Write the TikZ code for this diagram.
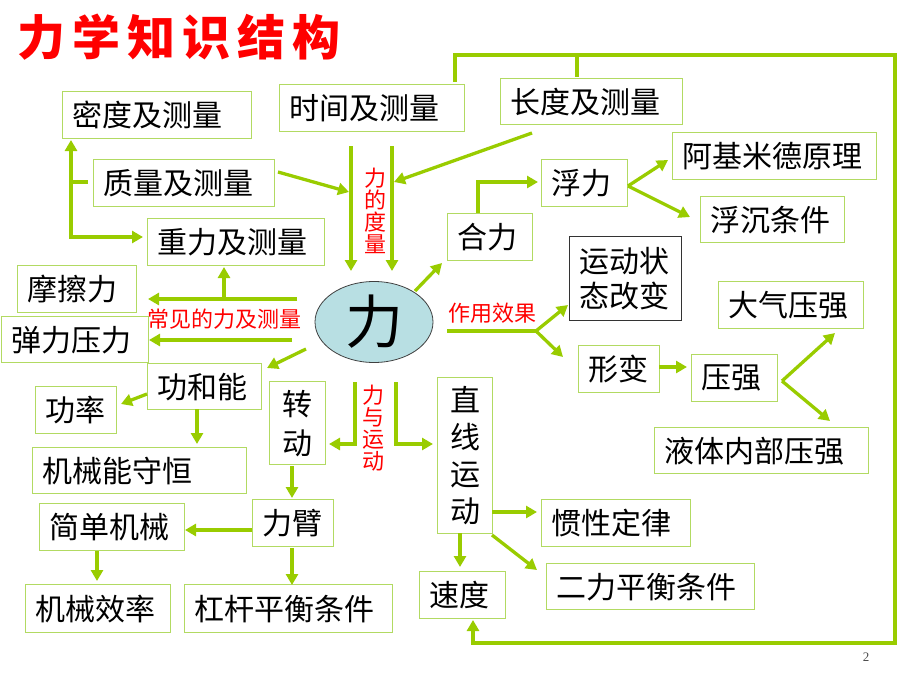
\documentclass[tikz,border=0pt]{standalone}
\usepackage{fontspec}
\setmainfont{Noto Sans CJK SC}
\newfontfamily\seriffont{Liberation Serif}
\usetikzlibrary{arrows.meta,shapes.geometric}
\definecolor{lg}{RGB}{153,204,0}
\definecolor{bg}{RGB}{178,218,98}
\definecolor{ellfill}{RGB}{184,223,227}
\tikzset{
  box/.style={draw=bg, line width=1.4pt, inner xsep=10pt, inner ysep=0pt, anchor=north west,
    align=left, font=\fontsize{30}{36}\selectfont},
  vbox/.style={box, align=center, inner xsep=0pt},
  conn/.style={draw=lg, line width=3.3pt},
  arr/.style={conn, -{Triangle[length=11pt,width=12pt]}},
  redlab/.style={text=red, inner sep=0pt, font=\fontsize{22}{22}\selectfont},
}
\begin{document}
\begin{tikzpicture}[x=1pt,y=-1pt]
\useasboundingbox (0,0) rectangle (920,690);
% title
\node[anchor=west, text=red, inner sep=0pt, font=\bfseries\fontsize{48}{50}\selectfont] (title) at (17,37)
  {力\kern7pt学\kern7pt知\kern7pt识\kern7pt结\kern7pt构};
% boxes
\node[box, text width=169pt, minimum height=47pt] (mid) at (62,91) {密度及测量};
\node[box, text width=165pt, minimum height=47pt] (shi) at (279,84) {时间及测量};
\node[box, text width=162pt, minimum height=46pt] (chang) at (500,78) {长度及测量};
\node[box, text width=161pt, minimum height=47pt] (zhi) at (93,159) {质量及测量};
\node[box, text width=157pt, minimum height=47pt] (zhong) at (147,218) {重力及测量};
\node[box, text width=184pt, minimum height=47pt] (aji) at (672,132) {阿基米德原理};
\node[box, text width=66pt, minimum height=47pt] (fu) at (541,159) {浮力};
\node[box, text width=124pt, minimum height=46pt] (fuchen) at (700,196) {浮沉条件};
\node[box, text width=65pt, minimum height=47pt] (heli) at (447,213) {合力};
\node[box, draw=black!80, line width=1pt, text width=92pt, minimum height=84pt,
  font=\fontsize{30}{35}\selectfont] (yd) at (569,236) {运动状\\态改变};
\node[box, text width=125pt, minimum height=47pt] (dq) at (718,281) {大气压强};
\node[box, text width=99pt, minimum height=47pt] (mc) at (17,265) {摩擦力};
\node[box, text width=127pt, minimum height=46pt] (tl) at (1,316) {弹力压力};
\node[box, text width=94pt, minimum height=46pt] (gn) at (147,363) {功和能};
\node[box, text width=61pt, minimum height=47pt] (gl) at (35,386) {功率};
\node[vbox, text width=56pt, minimum height=83pt, font=\fontsize{30}{39}\selectfont] (zd) at (269,381) {转\\动};
\node[vbox, text width=55pt, minimum height=156pt, font=\fontsize{30}{37}\selectfont] (zx) at (437,377) {直\\线\\运\\动};
\node[box, text width=61pt, minimum height=47pt] (xb) at (578,345) {形变};
\node[box, text width=66pt, minimum height=47pt] (yq) at (691,354) {压强};
\node[box, text width=194pt, minimum height=46pt] (yt) at (654,427) {液体内部压强};
\node[box, text width=129pt, minimum height=47pt] (gx) at (541,499) {惯性定律};
\node[box, text width=188pt, minimum height=46pt] (el) at (546,563) {二力平衡条件};
\node[box, text width=66pt, minimum height=47pt] (sd) at (419,571) {速度};
\node[box, text width=194pt, minimum height=46pt] (jn) at (32,447) {机械能守恒};
\node[box, text width=125pt, minimum height=47pt] (jd) at (39,503) {简单机械};
\node[box, text width=61pt, minimum height=47pt] (lb) at (252,499) {力臂};
\node[box, text width=125pt, minimum height=48pt] (xl) at (25,584) {机械效率};
\node[box, text width=188pt, minimum height=48pt] (gg) at (184,584) {杠杆平衡条件};
% central ellipse
\node[ellipse, draw=black!75, line width=0.8pt, fill=ellfill, minimum width=118pt, minimum height=81pt,
  inner sep=0pt, font=\fontsize{58}{60}\selectfont] (li) at (374,322) {力};
% red labels
\node[redlab, align=center, text width=22pt] (dlbl) at (375,211) {力\\的\\度\\量};
\node[redlab, align=center, text width=22pt] (ylbl) at (373,428) {力\\与\\运\\动};
\node[redlab] (clbl) at (224,319) {常见的力及测量};
\node[redlab] (zlbl) at (492,313) {作用效果};
\node[font=\seriffont\fontsize{13}{13}\selectfont, text=black!70, inner sep=0pt] (pg) at (866,657) {2};
% coordinates
\coordinate (m1t) at (351,146); \coordinate (m1b) at (351,271);
\coordinate (m2t) at (392,146); \coordinate (m2b) at (392,271);
\coordinate (zs) at (278,172); \coordinate (ze) at (349,192);
\coordinate (cs) at (532,133); \coordinate (ce) at (394,182);
\coordinate (bt) at (71,140); \coordinate (bc) at (71,237); \coordinate (be) at (143,237);
\coordinate (stub1) at (71,182); \coordinate (stub2) at (88,182);
\coordinate (t1) at (455,82); \coordinate (t2) at (455,55); \coordinate (t3) at (895,55);
\coordinate (t4) at (895,643); \coordinate (t5) at (473,643); \coordinate (t6) at (473,620);
\coordinate (c1) at (577,55); \coordinate (c2) at (577,77);
\coordinate (cu1) at (297,299); \coordinate (cu2) at (148,299);
\coordinate (cup1) at (224,299); \coordinate (cup2) at (224,267);
\coordinate (cl1) at (292,340); \coordinate (cl2) at (149,340);
\coordinate (g1) at (306,349); \coordinate (g2) at (267,368);
\coordinate (gl1) at (147,394); \coordinate (gl2) at (121,404);
\coordinate (gj1) at (197,409); \coordinate (gj2) at (197,444);
\coordinate (y1) at (355,382); \coordinate (y2) at (355,444); \coordinate (y3) at (329,444);
\coordinate (y4) at (396,382); \coordinate (y5) at (396,444); \coordinate (y6) at (433,444);
\coordinate (r1) at (292,466); \coordinate (r2) at (292,498);
\coordinate (l1) at (252,530); \coordinate (l2) at (185,530);
\coordinate (l3) at (292,548); \coordinate (l4) at (292,585);
\coordinate (j1) at (97,551); \coordinate (j2) at (97,581);
\coordinate (h1) at (415,291); \coordinate (h2) at (442,263);
\coordinate (h3) at (478,213); \coordinate (h4) at (478,182); \coordinate (h5) at (538,182);
\coordinate (f0) at (628,186); \coordinate (f1) at (668,160); \coordinate (f2) at (690,217);
\coordinate (e1) at (447,331); \coordinate (e2) at (536,331); \coordinate (e3) at (568,305); \coordinate (e4) at (563,357);
\coordinate (x1) at (659,367); \coordinate (x2) at (687,367);
\coordinate (p0) at (782,381); \coordinate (p1) at (835,333); \coordinate (p2) at (830,421);
\coordinate (s1) at (492,512); \coordinate (s2) at (537,512);
\coordinate (s3) at (492,535); \coordinate (s4) at (537,570);
\coordinate (s5) at (460,533); \coordinate (s6) at (460,567);
% connectors
\draw[arr] (m1t) -- (m1b);
\draw[arr] (m2t) -- (m2b);
\draw[arr] (zs) -- (ze);
\draw[arr] (cs) -- (ce);
\draw[conn, {Triangle[length=11pt,width=12pt]}-{Triangle[length=11pt,width=12pt]}] (bt) -- (bc) -- (be);
\draw[conn] (stub1) -- (stub2);
\draw[arr, line join=miter] (t1) -- (t2) -- (t3) -- (t4) -- (t5) -- (t6);
\draw[conn] (c1) -- (c2);
\draw[arr] (cu1) -- (cu2);
\draw[arr] (cup1) -- (cup2);
\draw[arr] (cl1) -- (cl2);
\draw[arr] (g1) -- (g2);
\draw[arr] (gl1) -- (gl2);
\draw[arr] (gj1) -- (gj2);
\draw[arr] (y1) -- (y2) -- (y3);
\draw[arr] (y4) -- (y5) -- (y6);
\draw[arr] (r1) -- (r2);
\draw[arr] (l1) -- (l2);
\draw[arr] (l3) -- (l4);
\draw[arr] (j1) -- (j2);
\draw[arr] (h1) -- (h2);
\draw[arr] (h3) -- (h4) -- (h5);
\draw[arr] (f0) -- (f1);
\draw[arr] (f0) -- (f2);
\draw[conn] (e1) -- (e2);
\draw[arr] (e2) -- (e3);
\draw[arr] (e2) -- (e4);
\draw[arr] (x1) -- (x2);
\draw[arr] (p0) -- (p1);
\draw[arr] (p0) -- (p2);
\draw[arr] (s1) -- (s2);
\draw[arr] (s3) -- (s4);
\draw[arr] (s5) -- (s6);
\end{tikzpicture}
\end{document}
